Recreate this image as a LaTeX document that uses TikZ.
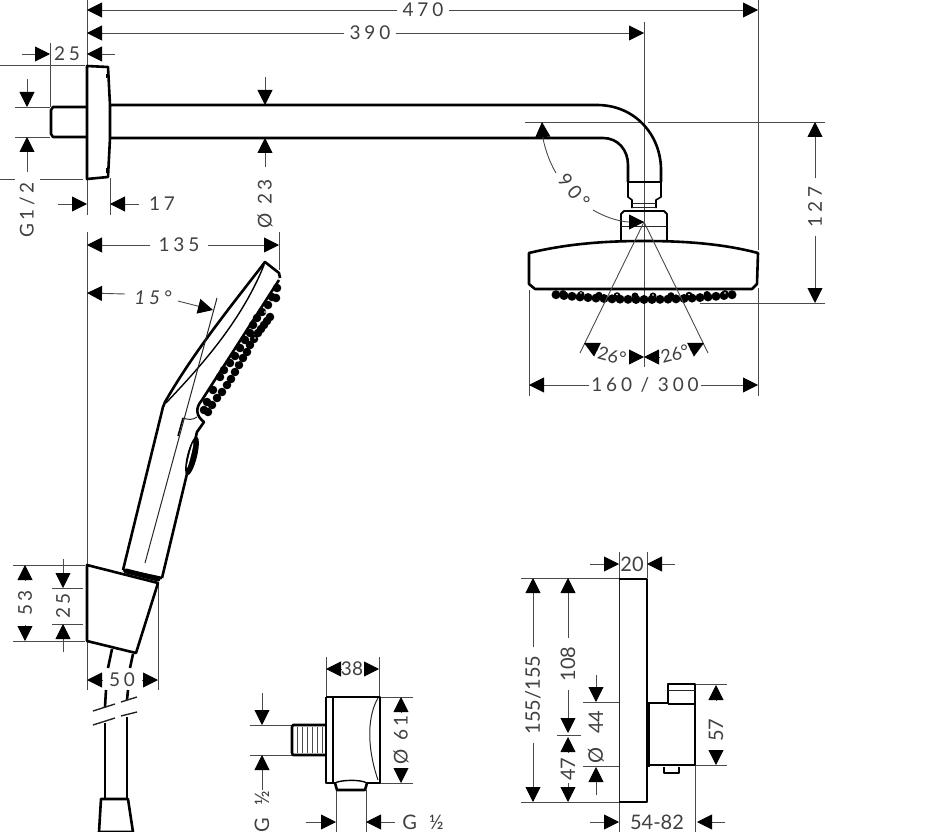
\documentclass[tikz,border=0pt]{standalone}
\usepackage{fontspec}
\setmainfont{Lato}
\newfontfamily\dimfont[LetterSpace=20]{Lato}
\newfontfamily\dimtight{Lato}
\usetikzlibrary{arrows.meta}
\definecolor{dimgray}{HTML}{4A4A4A}
\tikzset{
	% body outlines
	outl/.style={line width=2.6pt, black, line join=round},
	thinl/.style={line width=1pt, black!85},
	% dimension lines
	ext/.style={line width=0.9pt, dimgray},
	dimarrow/.style={line width=0.9pt, dimgray, -{Triangle[length=15pt,width=15pt,black]}},
	dimtext/.style={font=\fontsize{19}{19}\dimfont, inner sep=5pt, text=black!75},
	dimnarrow/.style={font=\fontsize{20}{20}\dimtight, inner sep=4pt, text=black!75}
}
\begin{document}
\begin{tikzpicture}[x=1pt,y=-1pt]
	\useasboundingbox (0,0) rectangle (945,832);

	% extension lines
	\begin{scope}[ext]
		\draw (87,0) -- (87,215);
		\draw (87,232) -- (87,640);
		\draw (87,641) -- (87,690);
		\draw (110,178) -- (110,215);
		\draw (758,0) -- (758,250);
		\draw (758,288) -- (758,396);
		\draw (644,22) -- (644,367);
		\draw (50,43) -- (50,107);
		\draw (0,65) -- (85,65);
		\draw (15,107) -- (50,107);
		\draw (15,137) -- (50,137);
		\draw (0,179) -- (15,179);
		\draw (40,179) -- (83,179);
		\draw (525,122) -- (642,122);
		\draw (648,122) -- (825,122);
		\draw (700,303) -- (825,303);
		\draw (529,290) -- (529,396);
		\draw (279,232) -- (279,270);
		\draw (158,583) -- (158,690);
		\draw (13,565) -- (85,565);
		\draw (13,641) -- (85,641);
		\draw (52,588) -- (83,588);
		\draw (52,624) -- (83,624);
		\draw (326,657) -- (326,697);
		\draw (379,657) -- (379,697);
		\draw (380,697) -- (413,697);
		\draw (380,783) -- (413,783);
		\draw (250,725) -- (292,725);
		\draw (250,755) -- (292,755);
		\draw (336,790) -- (336,832);
		\draw (366,790) -- (366,832);
		\draw (521,578) -- (619,578);
		\draw (521,802) -- (619,802);
		\draw (583,702) -- (619,702);
		\draw (583,766) -- (619,766);
		\draw (557,735) -- (581,735);
		\draw (619,552) -- (619,832);
		\draw (647,552) -- (647,578);
		\draw (695,684) -- (727,684);
		\draw (650,765) -- (727,765);
		\draw (695,765) -- (695,832);
	\end{scope}

	% wall plate and arm
	\draw[outl] (87,66) -- (108,67) -- (110,105) -- (110,138) -- (108,177) -- (87,179) -- cycle;
	\draw[outl] (87,107) -- (53,107) -- (51,110) -- (51,134) -- (53,137) -- (87,137);
	\draw[line width=1pt] (106,74) -- (106,78) (106,168) -- (106,173);
	\draw[outl] (111,105) -- (597,105) .. controls (635,105) and (661,135) .. (661,170) -- (661,182);
	\draw[outl] (111,138) -- (603,138) .. controls (618,138) and (628,150) .. (628,165) -- (628,182);
	\draw[outl] (628,182) -- (661,182);

	% shower head
	\draw[outl, line width=1.6pt] (628,182) -- (628,197) -- (632,200) -- (632,208);
	\draw[outl, line width=1.6pt] (661,182) -- (661,197) -- (656,200) -- (656,208);
	\draw[thinl] (632,203) -- (656,203) (632,207) -- (656,207);
	\draw[outl, line width=1.8pt] (621,241) -- (621,214) -- (624,211) -- (664,211) -- (667,214) -- (667,241);
	\draw[thinl] (621,226) -- (667,226);
	\draw[outl] (529,253) .. controls (570,243) and (610,241) .. (644,241) .. controls (680,241) and (720,243) .. (758,253) -- (757,284) -- (752,289) -- (535,289) -- (529,284) -- cycle;
	\foreach \dx in {-88,-80,...,88} {
		\fill ({644+\dx},{299.5-5*(\dx/90)^2}) circle (4.5);
	}
	\foreach \dx in {-81,-63,...,81} {
		\fill ({644+\dx},{296-3*(\dx/90)^2}) circle (3.5);
	}
	\foreach \dx in {-72,-36,0,36,72} {
		\fill[white] ({644+\dx+9},{295-3*(\dx/90)^2}) circle (0.9);
	}

	% 90 and 26 degree marks
	\draw[ext] (644,222) -- (580,353);
	\draw[ext] (644,222) -- (708,353);
	\draw[dimarrow] (556,173) .. controls (547,158) and (543,140) .. (542,122);
	\draw[dimarrow] (593,210) .. controls (610,220) and (625,222) .. (644,222);
	\node (t90) [dimtext, rotate=-50, inner sep=0pt] at (574,191) {90\hspace{4pt}°};
	\draw[dimarrow] (598,350) -- (584,343);
	\draw[dimarrow] (690,350) -- (704,343);
	\draw[dimarrow] (629,357) -- (644,357);
	\draw[dimarrow] (659,357) -- (644,357);
	\node (t26a) [dimnarrow, rotate=-15, inner sep=0pt, font=\fontsize{18}{18}\dimtight] at (612,356) {26°};
	\node (t26b) [dimnarrow, rotate=15, inner sep=0pt, font=\fontsize{18}{18}\dimtight] at (675,354) {26°};

	% hand shower
	\draw[outl] (123,570) -- (163,407) -- (165,402) .. controls (195,350) and (232,305) .. (265,262) -- (279,273) -- (280,278);
	\draw[outl] (279,280) -- (202,400) .. controls (195,408) and (196,416) .. (204,422) -- (197,432) -- (162,578);
	\draw[line width=1.4pt] (166,403) .. controls (195,372) and (240,325) .. (264,265);
	\draw[thinl] (217,298) -- (145,563);
	\draw[thinl] (183,418) .. controls (188,420) and (193,420) .. (197,417);
	\draw[outl, line width=1.5pt] (183,418) -- (178,436);
	\draw[line width=5pt, line cap=round] (126,571) -- (158,579);
	\draw[outl] (123,570) -- (162,578);
	\fill[rotate around={-14:(192,456)}] (192,456) ellipse (5 and 20);
	\fill[white, rotate around={-14:(192,456)}] (190,456) ellipse (0.9 and 13);
	\foreach \px/\py in {207/402,213/390,220/377,230/363,240/348,250/333,257/318,268/305,277/288,208/412,217/398,227/385,235/372,243/358,250/345,258/333,264/325,270/317,276/298,224/370,235/356,245/340,253/325,262/312,272/297,204/410,212/405,222/392,231/379,239/365,247/352,254/339,261/329,267/321} {
		\fill (\px,\py) circle (4.3);
	}
	\foreach \px/\py in {212/399,224/381,238/361,255/338,265/312} {
		\fill[white] (\px,\py) circle (0.9);
	}

	% holder and hose
	\draw[outl] (87,565) -- (158,583) -- (136,653) -- (87,641) -- cycle;
	\draw[outl] (112,649) -- (108,668);
	\draw[outl] (133,654) -- (130,668);
	\draw[outl] (106,690) -- (105,707);
	\draw[outl] (128,690) -- (127,700);
	\draw[outl] (105,723) -- (105,798);
	\draw[outl] (127,717) -- (127,798);
	\draw[thinl, line width=1.4pt] (93,711) -- (115,704) (121,702) -- (137,697);
	\draw[thinl, line width=1.4pt] (93,725) -- (115,718) (121,716) -- (137,712);
	\draw[outl] (99,832) -- (101,799) -- (128,799) -- (133,832) -- cycle;

	% wall connector
	\draw[outl] (326,697) -- (380,697) -- (380,783) -- (367,783) (326,697) -- (326,783) -- (335,783);
	\draw[outl, line width=1.4pt] (333,697) -- (333,783);
	\draw[thinl] (378,698) .. controls (368,715) and (366,745) .. (378,780);
	\draw[outl, line width=1.4pt] (335,783) .. controls (340,780) and (360,779) .. (367,783);
	\draw[outl] (335,783) -- (337,790) -- (365,790) -- (367,783);
	\draw[outl] (325,725) -- (293,725) -- (292,727) -- (292,753) -- (293,755) -- (325,755);
	\foreach \tx in {297,302,...,322} {
		\draw[line width=0.6pt, black!70] (\tx,727) -- (\tx,753);
	}

	% thermostat
	\draw[thinl] (619,579) -- (619,802);
	\draw[outl] (619,579) -- (647,579) -- (647,802) -- (619,802);
	\draw[line width=3.6pt] (648,702) -- (648,767);
	\draw[outl] (649,703) -- (668,703) -- (668,684) -- (695,684) -- (695,765) -- (649,765);
	\draw[thinl] (668,690) -- (695,690);
	\draw[line width=1.6pt] (668,704) -- (695,704);
	\draw[outl, line width=1.5pt] (664,767) -- (664,773) -- (679,773) -- (679,767);

	% dimension labels
	\node (t470) [dimtext] at (423,10) {470};
	\node (t390) [dimtext] at (370,33) {390};
	\node (t25a) [dimtext, inner sep=0pt] at (67,54) {25};
	\node (t17) [dimtext, inner sep=0pt] at (162,204) {17};
	\node (tg1) [dimtext, rotate=90, inner sep=0pt] at (27,210) {G1/2};
	\node (t23) [dimtext, rotate=90, inner sep=0pt] at (265,204) {Ø 23};
	\node (t135) [dimtext, inner sep=8pt] at (179,245) {135};
	\node (t127) [dimtext, rotate=90, inner sep=8pt] at (815,207) {127};
	\node (t160) [dimtext, inner sep=2pt] at (645,385) {160 / 300};
	\node (t15) [dimnarrow, font=\fontsize{19}{19}\dimfont\itshape, inner sep=0pt] at (153,298) {15°};
	\node (t53) [dimtext, rotate=90, inner sep=0pt] at (25,603) {53};
	\node (t25b) [dimtext, rotate=90, inner sep=0pt] at (63,606) {25};
	\node (t50) [dimtext, inner sep=0pt] at (122,680) {50};
	\node (t38) [dimtext, inner sep=0pt, font=\fontsize{19}{19}\dimtight] at (352,669) {38};
	\node (t61) [dimtext, rotate=90, inner sep=2pt] at (401,740) {Ø 61};
	\node (tg2) [dimnarrow, rotate=90, inner sep=0pt] at (262,812) {G\hspace{12pt}½};
	\node (tg3) [dimnarrow, inner sep=0pt] at (423,822) {G\hspace{12pt}½};
	\node (t20) [dimnarrow, inner sep=0pt] at (632,564) {20};
	\node (t155) [dimnarrow, rotate=90, inner sep=8pt] at (533,695) {155/155};
	\node (t108) [dimnarrow, rotate=90, inner sep=8pt] at (568,664) {108};
	\node (t47) [dimnarrow, rotate=90, inner sep=0pt] at (568,769) {47};
	\node (t44) [dimnarrow, rotate=90, inner sep=0pt] at (596,722) {44};
	\node (tdia) [dimnarrow, rotate=90, inner sep=0pt] at (596,755) {Ø};
	\node (t57) [dimnarrow, rotate=90, inner sep=6pt] at (716,730) {57};
	\node (t5482) [dimnarrow, inner sep=0pt] at (657,822) {54-82};

	% dimension arrows
	\begin{scope}[dimarrow]
		\draw (t470) -- (87,10);
		\draw (t470) -- (758,10);
		\draw (t390) -- (87,33);
		\draw (t390) -- (644,33);
		\draw (22,54) -- (50,54);
		\draw (115,54) -- (87,54);
		\draw (27,79) -- (27,107);
		\draw (27,172) -- (27,137);
		\draw (58,204) -- (87,204);
		\draw (139,204) -- (110,204);
		\draw (265,77) -- (265,105);
		\draw (265,167) -- (265,138);
		\draw (t135) -- (87,245);
		\draw (t135) -- (279,245);
		\draw (t127) -- (815,122);
		\draw (t127) -- (815,303);
		\draw (t160) -- (529,385);
		\draw (t160) -- (758,385);
		\draw (125,294) -- (87,293);
		\draw (178,301) -- (213,310);
		\draw (25,581) -- (25,565);
		\draw (25,625) -- (25,641);
		\draw (63,559) -- (63,588);
		\draw (63,652) -- (63,624);
		\draw (103,680) -- (87,680);
		\draw (142,680) -- (158,680);
		\draw (341,669) -- (326,669);
		\draw (364,669) -- (379,669);
		\draw (262,693) -- (262,725);
		\draw (262,790) -- (262,755);
		\draw (t61) -- (401,697);
		\draw (401,771) -- (401,783);
		\draw (306,822) -- (336,822);
		\draw (395,822) -- (366,822);
		\draw (590,564) -- (619,564);
		\draw (675,564) -- (647,564);
		\draw (t155) -- (533,578);
		\draw (t155) -- (533,802);
		\draw (t108) -- (568,578);
		\draw (t108) -- (568,733);
		\draw (568,783) -- (568,802);
		\draw (568,752) -- (568,737);
		\draw (596,675) -- (596,702);
		\draw (596,795) -- (596,767);
		\draw (716,700) -- (716,685);
		\draw (716,750) -- (716,765);
		\draw (590,822) -- (619,822);
		\draw (725,822) -- (697,822);
	\end{scope}
\end{tikzpicture}
\end{document}
